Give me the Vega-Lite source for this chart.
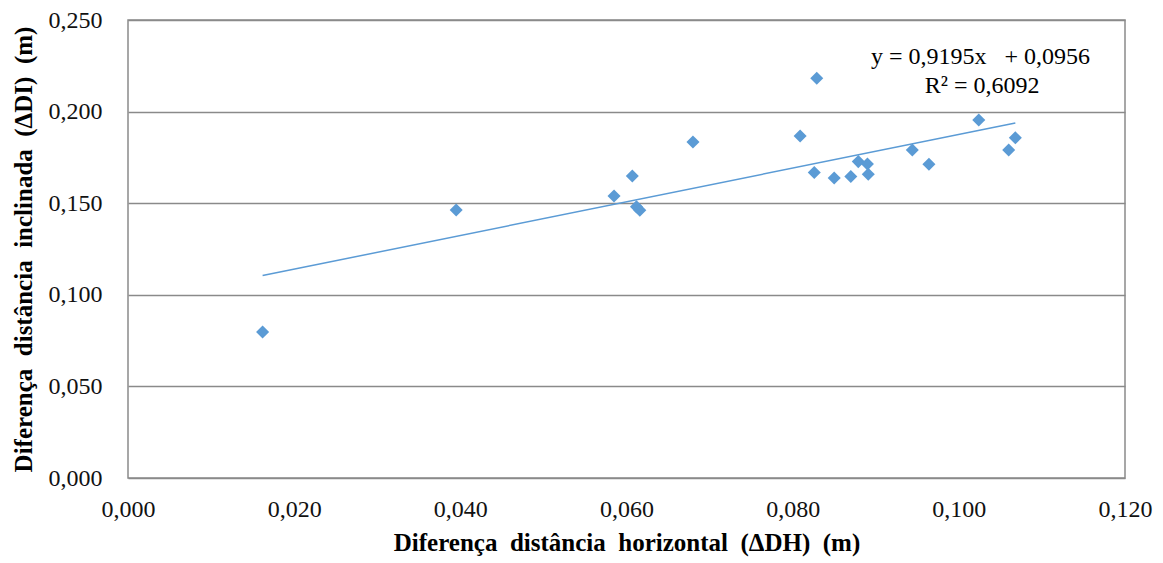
{
  "$schema": "https://vega.github.io/schema/vega-lite/v6.json",
  "width": 997,
  "height": 458,
  "autosize": {"type": "none"},
  "padding": {"left": 128, "top": 20, "right": 38, "bottom": 85},
  "background": "white",
  "config": {
    "view": {"stroke": "#8a8a8a", "strokeWidth": 1.5},
    "font": "Liberation Serif"
  },
  "datasets": {
    "pts": [
      {"dh": 0.0162, "di": 0.0797},
      {"dh": 0.0395, "di": 0.1463},
      {"dh": 0.0585, "di": 0.1539},
      {"dh": 0.0607, "di": 0.1648},
      {"dh": 0.0612, "di": 0.1481},
      {"dh": 0.0616, "di": 0.1461},
      {"dh": 0.0680, "di": 0.1834},
      {"dh": 0.0809, "di": 0.1867},
      {"dh": 0.0829, "di": 0.2182},
      {"dh": 0.0826, "di": 0.1667},
      {"dh": 0.0850, "di": 0.1637},
      {"dh": 0.0870, "di": 0.1646},
      {"dh": 0.0879, "di": 0.1727},
      {"dh": 0.0890, "di": 0.1714},
      {"dh": 0.0891, "di": 0.1658},
      {"dh": 0.0944, "di": 0.1790},
      {"dh": 0.0964, "di": 0.1713},
      {"dh": 0.1024, "di": 0.1954},
      {"dh": 0.1060, "di": 0.1790},
      {"dh": 0.1068, "di": 0.1857}
    ],
    "trend": [
      {"dh": 0.0162, "di": 0.1105},
      {"dh": 0.1068, "di": 0.1938}
    ],
    "notes": [
      {"dh": 0.1026, "di": 0.2298, "label": "y = 0,9195x \u00a0 + 0,0956"},
      {"dh": 0.1028, "di": 0.2140, "label": "R² = 0,6092"}
    ]
  },
  "encoding": {
    "x": {
      "field": "dh", "type": "quantitative",
      "scale": {"domain": [0, 0.12], "nice": false, "zero": false},
      "axis": {
        "title": "Diferença\u00a0 distância\u00a0 horizontal\u00a0 (ΔDH)\u00a0 (m)",
        "values": [0, 0.02, 0.04, 0.06, 0.08, 0.1, 0.12],
        "labelExpr": "replace(format(datum.value, '.3f'), '.', ',')",
        "grid": false, "domain": false, "ticks": false,
        "labelPadding": 19, "labelFontSize": 24, "labelColor": "#111",
        "labelFont": "Liberation Serif", "labelFlush": false,
        "titleFont": "Liberation Serif", "titleFontSize": 25, "titleFontWeight": "bold",
        "titleColor": "#000", "titlePadding": 9
      }
    },
    "y": {
      "field": "di", "type": "quantitative",
      "scale": {"domain": [0, 0.25], "nice": false, "zero": false},
      "axis": {
        "title": "Diferença\u00a0 distância\u00a0 inclinada\u00a0 (ΔDI)\u00a0 (m)",
        "values": [0, 0.05, 0.1, 0.15, 0.2, 0.25],
        "labelExpr": "replace(format(datum.value, '.3f'), '.', ',')",
        "grid": true, "gridColor": "#8a8a8a", "gridWidth": 1.5, "gridOpacity": 1,
        "domain": false, "ticks": false,
        "labelPadding": 26, "labelFontSize": 24, "labelColor": "#111",
        "labelFont": "Liberation Serif", "labelFlush": false,
        "titleFont": "Liberation Serif", "titleFontSize": 25, "titleFontWeight": "bold",
        "titleColor": "#000", "titlePadding": 12
      }
    }
  },
  "layer": [
    {
      "data": {"name": "trend"},
      "mark": {"type": "line", "color": "#5b9bd5", "strokeWidth": 1.5},
      "encoding": {}
    },
    {
      "data": {"name": "pts"},
      "mark": {"type": "point", "shape": "diamond", "filled": true, "size": 170, "color": "#5b9bd5", "opacity": 1}
    },
    {
      "data": {"name": "notes"},
      "mark": {"type": "text", "font": "Liberation Serif", "fontSize": 24, "color": "#000", "align": "center", "baseline": "middle"},
      "encoding": {"text": {"field": "label"}}
    }
  ]
}
